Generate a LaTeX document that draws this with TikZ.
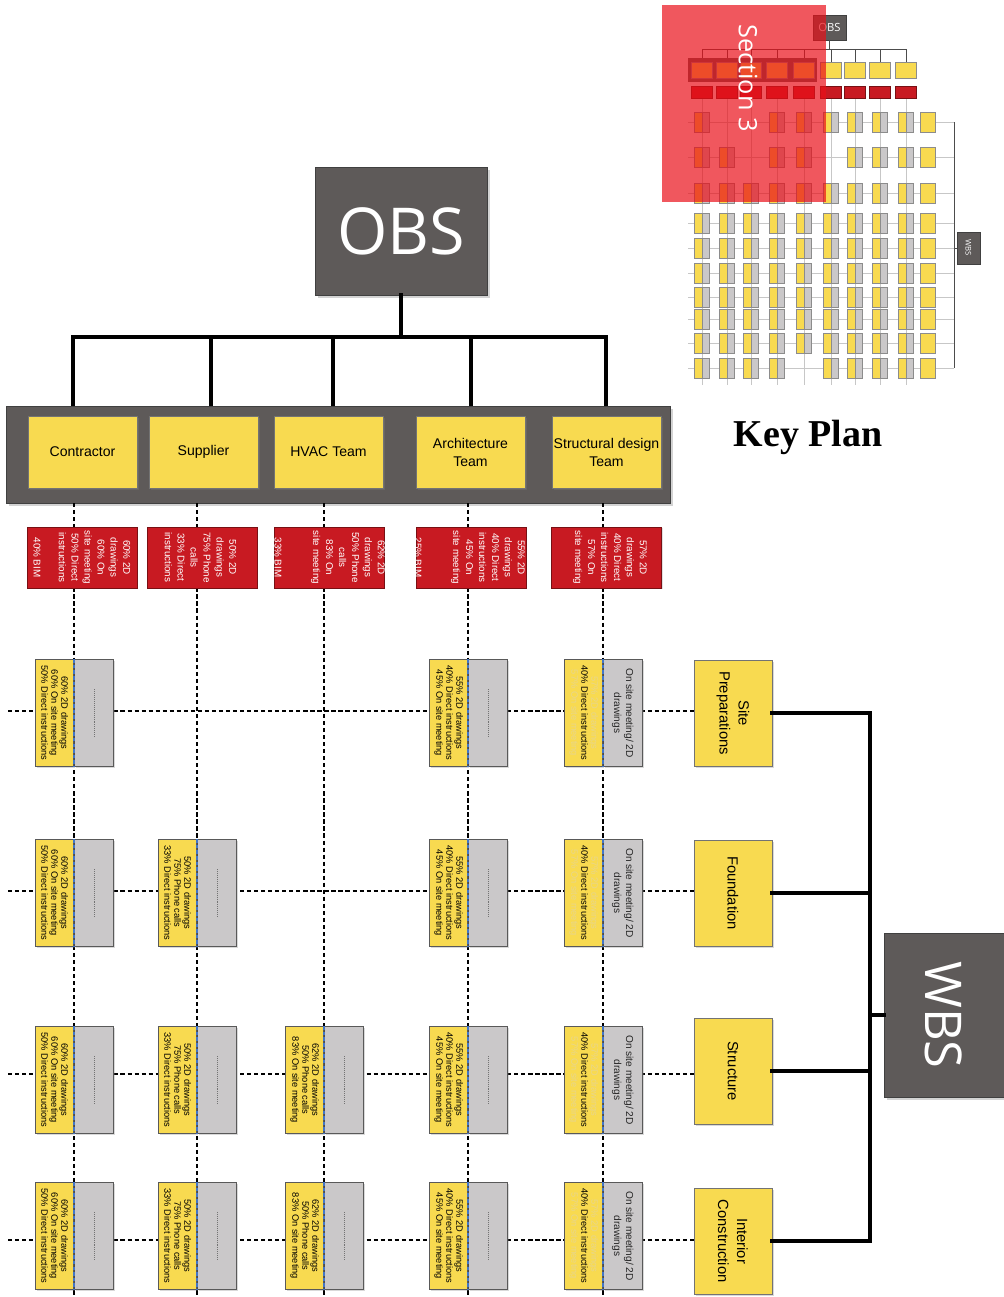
\documentclass[tikz,border=0pt]{standalone}
\usepackage{fontspec}
\setmainfont{Liberation Sans}
\newfontfamily\headfont{Open Sans}
\newfontfamily\titlefont{Liberation Serif}
\usetikzlibrary{positioning,shadows,calc}
\definecolor{slate}{RGB}{94,90,89}
\definecolor{canary}{RGB}{248,218,80}
\definecolor{crimson}{RGB}{200,26,34}
\definecolor{fog}{RGB}{202,200,201}
\definecolor{azure}{RGB}{66,118,200}
\definecolor{pale}{RGB}{232,214,140}
\definecolor{veil}{RGB}{233,16,25}
\tikzset{
  slab/.style={fill=slate,draw=black!75,text=white,inner sep=0pt},
  deep/.style={drop shadow={opacity=0.35,shadow xshift=2pt,shadow yshift=-2pt}},
  team/.style={fill=canary,draw=black!55,minimum width=2.725cm,minimum height=1.8cm,
    align=center,inner sep=1pt,font=\fontsize{10}{12.8}\selectfont,
    drop shadow={opacity=0.3,shadow xshift=1.5pt,shadow yshift=-1.5pt}},
  share/.style={fill=crimson,draw=crimson!60!black,minimum width=2.75cm,minimum height=1.525cm,
    drop shadow={opacity=0.25,shadow xshift=1pt,shadow yshift=-1pt}},
  sharetext/.style={rotate=-90,text=white,align=center,inner sep=0pt,
    font=\fontsize{7}{9.2}\selectfont},
  half/.style={draw=black!65,inner sep=0pt,minimum width=0.95cm,minimum height=2.675cm,
    drop shadow={opacity=0.3,shadow xshift=1.2pt,shadow yshift=-1.2pt}},
  celltext/.style={rotate=-90,align=center,inner sep=0pt,font=\fontsize{6.6}{7.1}\selectfont},
  divider/.style={azure,line width=1pt,dash pattern=on 2.5pt off 1.5pt},
  dashmark/.style={black!55,line width=0.4pt,dash pattern=on 0.7pt off 0.7pt},
  stage/.style={fill=canary,draw=black!55,minimum width=1.95cm,minimum height=2.65cm,
    drop shadow={opacity=0.3,shadow xshift=1.5pt,shadow yshift=-1.5pt}},
  stagetext/.style={rotate=-90,align=center,font=\fontsize{10.5}{13.5}\selectfont},
  branch/.style={line width=2.8pt,line cap=rect},
  gridline/.style={line width=0.9pt,dash pattern=on 3pt off 2pt},
  hair/.style={black!22,line width=0.4pt},
  twig/.style={black!70,line width=0.6pt},
  % key plan miniatures
  pics/minicell/.style={code={
    \filldraw[fill=canary,draw=black!45,line width=0.3pt] (-7.5,-10) rectangle (0,10);
    \filldraw[fill=fog,draw=black!45,line width=0.3pt] (0,-10) rectangle (7.5,10);
  }},
  pics/miniteam/.style={code={
    \filldraw[fill=canary,draw=black!45,line width=0.3pt] (-10.5,-8) rectangle (10.5,8);
  }},
  pics/minishare/.style={code={
    \filldraw[fill=crimson,draw=crimson!60!black,line width=0.3pt] (-10.5,-6) rectangle (10.5,6);
  }},
  pics/ministage/.style={code={
    \filldraw[fill=canary,draw=black!45,line width=0.3pt] (-7.5,-10) rectangle (7.5,10);
  }},
}
\newcommand\ctrtxt{60\% 2D drawings\\60\% On site meeting\\50\% Direct instructions}
\newcommand\suptxt{50\% 2D drawings\\75\% Phone calls\\33\% Direct instructions}
\newcommand\hvactxt{62\% 2D drawings\\50\% Phone calls\\83\% On site meeting}
\newcommand\archtxt{55\% 2D drawings\\40\% Direct instructions\\45\% On site meeting}
\newcommand\cellbase[3]{%
  \node[half,fill=canary,anchor=east] (#1-y) at (#2) {};
  \node[half,fill=fog,anchor=west,minimum width=0.975cm] (#1-g) at (#2) {};
  \draw[black!70,line width=0.6pt] (#1-y.north east) -- (#1-y.south east);
  \draw[divider] (#1-y.north east) -- (#1-y.south east);
  \node[celltext] (#1-t) at (#1-y.center) {#3};
}
\newcommand\wcell[3]{%
  \cellbase{#1}{#2}{#3}
  \draw[dashmark] ([yshift=6mm]#1-g.center) -- ([yshift=-6mm]#1-g.center);
}
\newcommand\scell[2]{%
  \cellbase{#1}{#2}{\textcolor{pale}{57\% 2D drawings}\\40\% Direct instructions\\\textcolor{pale}{57\% On site meeting}}
  \node[celltext,font=\fontsize{7.2}{8.6}\selectfont,text=black!85] (#1-n) at (#1-g.center) {On site meeting/ 2D\\drawings};
}

\begin{document}
\begin{tikzpicture}[x=0.025cm,y=-0.025cm]
  \useasboundingbox (0,0) rectangle (1004,1297);

  % key plan
  \foreach \x [count=\i] in {702,727,751,777,804,831,855,880,906} \coordinate (k\i) at (\x,49);
  \foreach \y [count=\j] in {122,157,193,223,248,273,297,319,343,368} {
    \coordinate (kr\j) at (688,\y);
    \coordinate (kw\j) at (954,\y);
  }
  \coordinate (kband) at (0,62); \coordinate (kteam) at (0,70);
  \coordinate (kshare) at (0,92); \coordinate (kbot) at (0,385);
  \coordinate (kst) at (927.5,0);
  \foreach \i in {1,...,9} \draw[hair] (k\i |- kshare) -- (k\i |- kbot);
  \foreach \j in {1,...,10} \draw[hair] (kr\j) -- (kw\j);
  \node[slab,minimum width=0.825cm,minimum height=0.625cm,font=\headfont\fontsize{8}{9}\selectfont] (kobs) at (829.5,27.5) {OBS};
  \draw[twig] (kobs.south) -- (kobs.south |- k1);
  \draw[twig] (k1) -- (k9);
  \foreach \i in {1,...,9} \draw[twig] (k\i) -- (k\i |- kband);
  \fill[slate] (688,58) rectangle (817,82);
  \foreach \i in {1,...,9} {
    \pic at (k\i |- kteam) {miniteam};
    \pic at (k\i |- kshare) {minishare};
  }
  \foreach \i in {1,4,5,6,7,8,9} \pic at (k\i |- kr1) {minicell};
  \foreach \i in {1,2,4,5,7,8,9} \pic at (k\i |- kr2) {minicell};
  \foreach \j in {3,...,9} \foreach \i in {1,...,9} \pic at (k\i |- kr\j) {minicell};
  \foreach \i in {1,2,3,4,6,7,8,9} \pic at (k\i |- kr10) {minicell};
  \draw[twig] (kw1) -- (kw10);
  \foreach \j in {1,...,10} \pic at (kst |- kr\j) {ministage};
  \node[slab,minimum width=0.575cm,minimum height=0.8cm] (kwbs) at (968.5,248) {};
  \node[rotate=-90,text=white,font=\headfont\fontsize{5.5}{6}\selectfont] (kwbs-l) at (kwbs.center) {WBS};
  \draw[twig] (kwbs.west) -- (kwbs.west -| kw1);
  \fill[veil,opacity=0.7] (662,5) rectangle (826,202);
  \node[rotate=-90,text=white,font=\headfont\fontsize{18}{20}\selectfont] (sec) at (748,78) {Section 3};
  \node[anchor=base,font=\titlefont\bfseries\fontsize{27}{30}\selectfont] (keyplan) at (808,446) {Key Plan};

  % OBS tree
  \coordinate (bus) at (401,337);
  \foreach \x [count=\i] in {73,211,333,471,606} \coordinate (d\i) at (\x,406);
  \node[slab,deep,minimum width=4.3cm,minimum height=3.2cm,font=\headfont\fontsize{46}{50}\selectfont] (obs) at (401,231) {OBS};
  \draw[branch] (obs.south) -- (bus);
  \draw[branch] (d1 |- bus) -- (d5 |- bus);
  \foreach \i in {1,...,5} \draw[branch] (d\i |- bus) -- (d\i);
  \node[slab,deep,minimum width=16.6cm,minimum height=2.425cm] (band) at (338,454.5) {};
  \node[team] (ctr) at (82.5,452) {Contractor};
  \node[team] (sup) at (203.5,452) {Supplier};
  \node[team] (hvac) at (328.5,452) {HVAC Team};
  \node[team] (arch) at (470.5,452) {Architecture\\Team};
  \node[team] (str) at (606.5,452) {Structural design\\Team};

  % dashed grid
  \foreach \nm/\x in {C/74,S/197,H/324,A/468,T/603} \coordinate (col\nm) at (\x,503);
  \foreach \r/\y in {1/713,2/893,3/1080,4/1236} \coordinate (row\r) at (0,\y);
  \coordinate (bottom) at (0,1297);
  \foreach \nm in {C,S,H,A,T} \draw[gridline] (col\nm) -- (col\nm |- bottom);

  % WBS side
  \node[stage] (site) at (733,713) {};
  \node[stage] (found) at (733,893) {};
  \node[stage] (struct) at (733,1071) {};
  \node[stage] (inter) at (733,1241) {};
  \node[stagetext] (site-l) at (site.center) {Site\\Preparations};
  \node[stagetext] (found-l) at (found.center) {Foundation};
  \node[stagetext] (struct-l) at (struct.center) {Structure};
  \node[stagetext] (inter-l) at (inter.center) {Interior\\Construction};
  \foreach \r/\y/\st in {1/711/site,2/891/found,3/1074/struct,4/1240/inter} {
    \coordinate (h\r) at (8,\y);
    \draw[gridline] (h\r) -- (\st.west |- h\r);
  }
  \coordinate (wbus) at (870,1015);
  \foreach \st in {site,found,struct,inter} \draw[branch] (\st.east) -- (\st.east -| wbus);
  \draw[branch] (site.east -| wbus) -- (inter.east -| wbus);
  \node[slab,deep,minimum width=3cm,minimum height=4.1cm] (wbs) at (944,1015) {};
  \node[rotate=-90,text=white,font=\headfont\fontsize{36}{40}\selectfont] (wbs-l) at (wbs.center) {WBS};
  \draw[branch] (wbus) -- (wbs.west);

  % shares
  \node[share] (ctr-r) at (82,557.5) {};
  \node[share] (sup-r) at (202,557.5) {};
  \node[share] (hvac-r) at (329,557.5) {};
  \node[share] (arch-r) at (471,557.5) {};
  \node[share] (str-r) at (606.5,557.5) {};
  \node[sharetext] (ctr-rt) at (94.5,557.5) {60\% 2D\\drawings\\60\% On\\site meeting\\50\% Direct\\instructions};
  \node[sharetext] (ctr-bim) at (37,557.5) {40\% BIM};
  \node[sharetext] (sup-rt) at (200.5,557.5) {50\% 2D\\drawings\\75\% Phone\\calls\\33\% Direct\\instructions};
  \node[sharetext] (hvac-rt) at (348,557.5) {62\% 2D\\drawings\\50\% Phone\\calls\\83\% On\\site meeting};
  \node[sharetext] (hvac-bim) at (278,557.5) {33\% BIM};
  \node[sharetext] (arch-rt) at (488,557.5) {55\% 2D\\drawings\\40\% Direct\\instructions\\45\% On\\site meeting};
  \node[sharetext] (arch-bim) at (418,557.5) {25\% BIM};
  \node[sharetext] (str-rt) at (610,557.5) {57\% 2D\\drawings\\40\% Direct\\instructions\\57\% On\\site meeting};

  % cells
  \foreach \r in {1,...,4} \wcell{c\r}{colC |- row\r}{\ctrtxt};
  \foreach \r in {2,...,4} \wcell{s\r}{colS |- row\r}{\suptxt};
  \foreach \r in {3,4} \wcell{h\r}{colH |- row\r}{\hvactxt};
  \foreach \r in {1,...,4} \wcell{a\r}{colA |- row\r}{\archtxt};
  \foreach \r in {1,...,4} \scell{t\r}{colT |- row\r};
\end{tikzpicture}
\end{document}
